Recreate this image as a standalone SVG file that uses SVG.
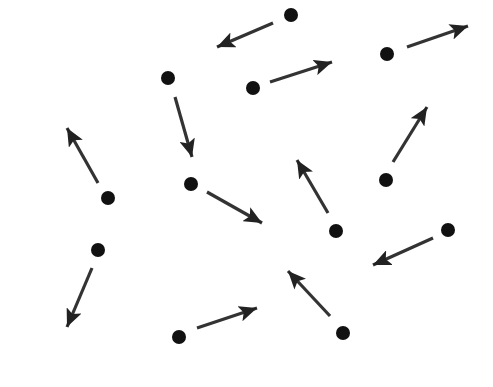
<svg xmlns="http://www.w3.org/2000/svg" width="493" height="387" viewBox="0 0 493 387">
<style>
.dot{fill:#111}
.arr{stroke:#333;stroke-width:3.2;fill:none;marker-end:url(#ah)}
</style>
<defs>
<marker id="ah" markerUnits="userSpaceOnUse" markerWidth="20" markerHeight="16" refX="18" refY="8" orient="auto">
<path d="M0,0 L18,8 L0,16 L4,8 Z" fill="#222"/>
</marker>
</defs>
<rect width="493" height="387" fill="#fff"/>
<g id="nodes">
<g id="n1"><circle class="dot" cx="291" cy="15" r="7"/></g>
<g id="n2"><circle class="dot" cx="253" cy="88" r="7"/></g>
<g id="n3"><circle class="dot" cx="168" cy="78" r="7"/></g>
<g id="n4"><circle class="dot" cx="108" cy="198" r="7"/></g>
<g id="n5"><circle class="dot" cx="191" cy="184" r="7"/></g>
<g id="n6"><circle class="dot" cx="387" cy="54" r="7"/></g>
<g id="n7"><circle class="dot" cx="386" cy="180" r="7"/></g>
<g id="n8"><circle class="dot" cx="336" cy="231" r="7"/></g>
<g id="n9"><circle class="dot" cx="448" cy="230" r="7"/></g>
<g id="n10"><circle class="dot" cx="343" cy="333" r="7"/></g>
<g id="n11"><circle class="dot" cx="98" cy="250" r="7"/></g>
<g id="n12"><circle class="dot" cx="179" cy="337" r="7"/></g>
</g>
<g id="connectors">
<line class="arr" x1="273" y1="23" x2="217" y2="47"/>
<line class="arr" x1="270" y1="82" x2="332" y2="62"/>
<line class="arr" x1="175" y1="97" x2="192" y2="157"/>
<line class="arr" x1="98" y1="183" x2="67" y2="128"/>
<line class="arr" x1="207" y1="192" x2="262" y2="223"/>
<line class="arr" x1="407" y1="47" x2="468" y2="26"/>
<line class="arr" x1="393" y1="162" x2="427" y2="107"/>
<line class="arr" x1="328" y1="213" x2="297" y2="160"/>
<line class="arr" x1="433" y1="238" x2="373" y2="265"/>
<line class="arr" x1="330" y1="316" x2="288" y2="271"/>
<line class="arr" x1="92" y1="268" x2="67" y2="327"/>
<line class="arr" x1="197" y1="328" x2="257" y2="308"/>
</g>
</svg>
